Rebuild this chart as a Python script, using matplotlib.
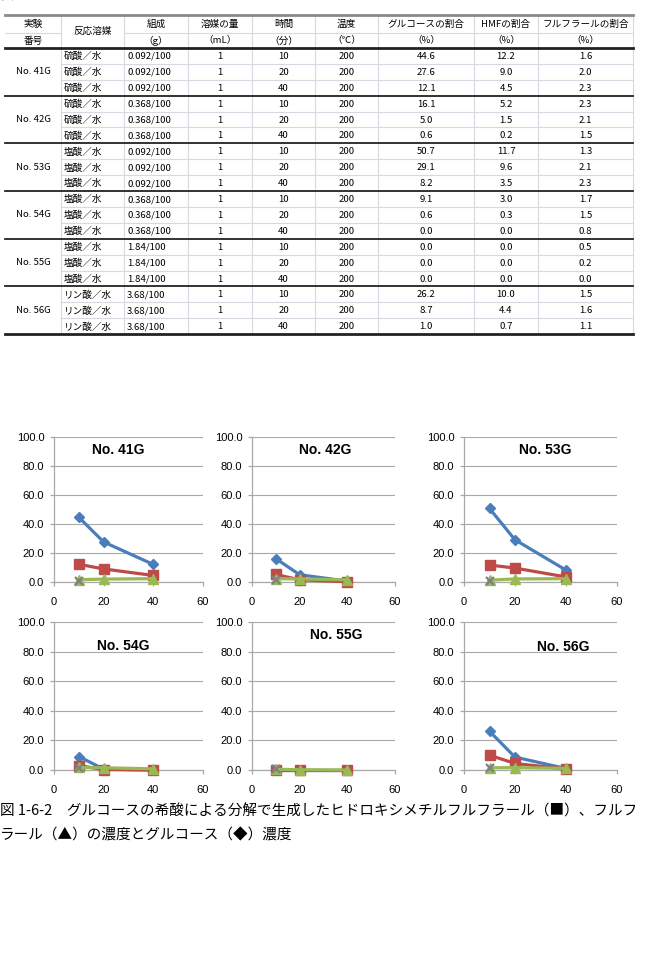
import matplotlib
matplotlib.use("Agg")
import matplotlib.pyplot as plt

plt.rcParams['font.family'] = ['Noto Sans CJK JP', 'DejaVu Sans']

# ---- データ ----
groups = ["No. 41G", "No. 42G", "No. 53G", "No. 54G", "No. 55G", "No. 56G"]
solvents = ["硫酸／水", "硫酸／水", "塩酸／水", "塩酸／水", "塩酸／水", "リン酸／水"]
compositions = ["0.092/100", "0.368/100", "0.092/100", "0.368/100", "1.84/100", "3.68/100"]
solvent_ml = [1, 1, 1]
times = [10, 20, 40]
temps = [200, 200, 200]
glucose = [[44.6, 27.6, 12.1], [16.1, 5.0, 0.6], [50.7, 29.1, 8.2],
           [9.1, 0.6, 0.0], [0.0, 0.0, 0.0], [26.2, 8.7, 1.0]]
hmf = [[12.2, 9.0, 4.5], [5.2, 1.5, 0.2], [11.7, 9.6, 3.5],
       [3.0, 0.3, 0.0], [0.0, 0.0, 0.0], [10.0, 4.4, 0.7]]
furfural = [[1.6, 2.0, 2.3], [2.3, 2.1, 1.5], [1.3, 2.1, 2.3],
            [1.7, 1.5, 0.8], [0.5, 0.2, 0.0], [1.5, 1.6, 1.1]]
x_mark = [1.0, 1.5, 1.0, 1.5, 1.0, 1.5]  # 灰色の × (10分のみ)

header1 = ["実験", "反応溶媒", "組成", "溶媒の量", "時間", "温度", "グルコースの割合", "HMFの割合", "フルフラールの割合"]
header2 = ["番号", "", "（g）", "（mL）", "（分）", "（℃）", "（%）", "（%）", "（%）"]

title_pos = [(26, 91), (30.5, 91), (32, 91), (28, 84), (35.5, 91), (39, 83)]

W, H = 646, 972
fig = plt.figure(figsize=(W / 100, H / 100), dpi=100)
bg = fig.add_axes([0, 0, 1, 1])
bg.set_xlim(0, W)
bg.set_ylim(H, 0)
bg.axis('off')

# ---- 表 ----
cols = [5, 61, 124, 188, 252, 315, 378, 474, 538, 633]
top, h1, h2 = 15, 33, 48
row_h = 15.9
fs = 6.9
light = '#d5d9e2'

# 上端で切れている表題
bg.text(0, -5, "表 1-6-2　グルコースの希酸による分解の条件と結果", fontsize=10, va='center')

bg.plot([cols[0], cols[-1]], [top, top], color='#8a8a8a', lw=2)
for c in cols[1:]:
    bg.plot([c, c], [top, h2 + 18 * row_h], color=light, lw=0.8, zorder=0)
bg.plot([cols[0], cols[1]], [h1, h1], color=light, lw=0.8)
bg.plot([cols[2], cols[-1]], [h1, h1], color=light, lw=0.8)
for i, (a, b) in enumerate(zip(header1, header2)):
    cx = (cols[i] + cols[i + 1]) / 2
    if i == 1:
        bg.text(cx, (top + h2) / 2, a, fontsize=fs, ha='center', va='center')
        continue
    bg.text(cx, (top + h1) / 2 + 0.5, a, fontsize=fs, ha='center', va='center')
    bg.text(cx, (h1 + h2) / 2 + 0.5, b, fontsize=fs, ha='center', va='center')
bg.plot([cols[0], cols[-1]], [h2, h2], color='#222222', lw=2)

for g in range(6):
    y0 = h2 + g * 3 * row_h
    bg.text((cols[0] + cols[1]) / 2, y0 + 1.5 * row_h, groups[g], fontsize=fs,
            ha='center', va='center')
    for r in range(3):
        yc = y0 + (r + 0.5) * row_h + 0.5
        vals = [solvents[g], compositions[g], str(solvent_ml[r]), str(times[r]),
                str(temps[r]), f"{glucose[g][r]:.1f}", f"{hmf[g][r]:.1f}",
                f"{furfural[g][r]:.1f}"]
        for k, v in enumerate(vals):
            ci = k + 1
            if ci in (1, 2):
                bg.text(cols[ci] + 3, yc, v, fontsize=fs, ha='left', va='center')
            else:
                bg.text((cols[ci] + cols[ci + 1]) / 2, yc, v, fontsize=fs,
                        ha='center', va='center')
        if r < 2:
            yl = y0 + (r + 1) * row_h
            bg.plot([cols[1], cols[-1]], [yl, yl], color=light, lw=0.8)
    yb = y0 + 3 * row_h
    bg.plot([cols[0], cols[-1]], [yb, yb], color='#222222', lw=1.3 if g < 5 else 2)

# ---- グラフ ----
col_px = [(54, 203), (252, 395), (464, 617)]
row_px = [(437, 582), (622, 770)]
grid_c = '#a8a8a8'

for g in range(6):
    rr, cc = divmod(g, 3)
    x0, x1 = col_px[cc]
    yt, yb_ = row_px[rr]
    ax = fig.add_axes([x0 / W, 1 - yb_ / H, (x1 - x0) / W, (yb_ - yt) / H])
    ax.set_xlim(0, 60)
    ax.set_ylim(0, 100)
    ax.set_xticks([0, 20, 40, 60])
    ax.set_yticks([0, 20, 40, 60, 80, 100])
    ax.set_yticklabels([f"{v:.1f}" for v in [0, 20, 40, 60, 80, 100]])
    for s in ['top', 'right']:
        ax.spines[s].set_visible(False)
    for s in ['left', 'bottom']:
        ax.spines[s].set_color(grid_c)
        ax.spines[s].set_linewidth(0.9)
    ax.tick_params(axis='y', length=3, width=0.9, color=grid_c, pad=4,
                   labelsize=8, labelfontfamily='Liberation Sans')
    ax.tick_params(axis='x', length=3, width=0.9, color=grid_c, pad=8,
                   labelsize=8, labelfontfamily='Liberation Sans')
    ax.grid(axis='y', color=grid_c, lw=0.8)
    ax.set_axisbelow(True)
    ax.patch.set_alpha(0)

    ax.plot(times, glucose[g], color='#4a7ebb', lw=2.3, marker='D', ms=5.5,
            clip_on=False, zorder=3)
    ax.plot(times, hmf[g], color='#be4b48', lw=2.3, marker='s', ms=6.5,
            clip_on=False, zorder=4)
    ax.plot(times, furfural[g], color='#98b954', lw=2.3, marker='^', ms=6.5,
            clip_on=False, zorder=5)
    ax.plot(times[:1], [x_mark[g]], color='#7f7f8a', lw=0, marker='x', ms=6,
            mew=1.6, clip_on=False, zorder=6)

    tx, ty = title_pos[g]
    ax.text(tx, ty, groups[g], fontsize=10, fontweight='bold',
            family='Liberation Sans', ha='center', va='center')

# ---- 図のキャプション ----
bg.text(0, 812, "図 1-6-2　グルコースの希酸による分解で生成したヒドロキシメチルフルフラール（■）、フルフ",
        fontsize=10.5, va='center')
bg.text(0, 835, "ラール（▲）の濃度とグルコース（◆）濃度", fontsize=10.5, va='center')

fig.savefig("out.png", dpi=100)
